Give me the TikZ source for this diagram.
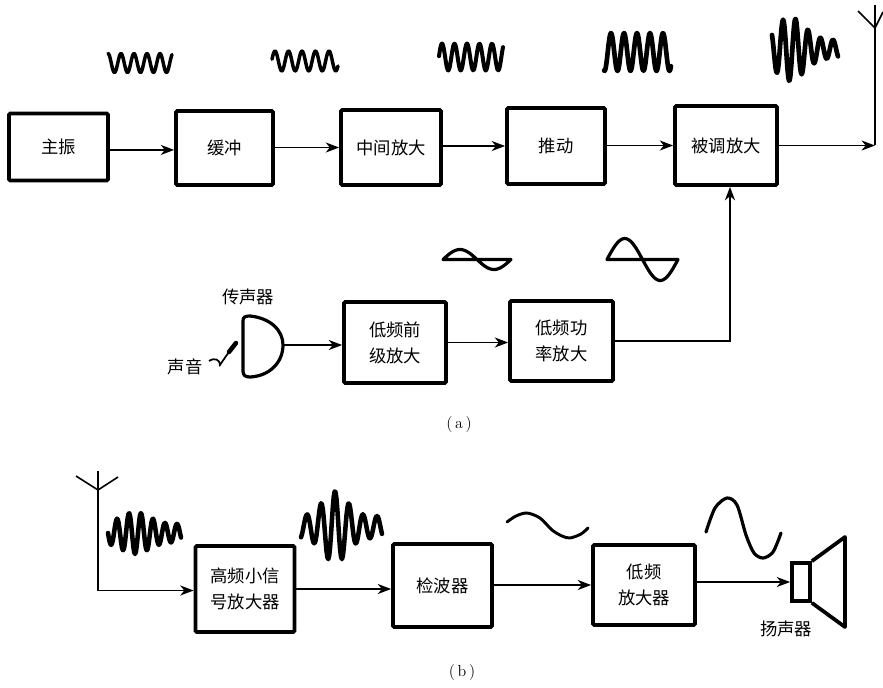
\documentclass[tikz,border=0pt]{standalone}
\usepackage{fontspec}
\newfontfamily\cjk{Noto Sans CJK SC}
\usetikzlibrary{arrows.meta}
\usetikzlibrary{calc}

\tikzset{
	blockbox/.style={draw, line width=2.8pt, rounded corners=1pt, align=center, inner sep=0pt, font=\cjk\fontsize{13}{19.5}\selectfont},
	sig/.style={line width=1.2pt, -{Stealth[length=10pt,width=7.5pt,inset=3pt]}},
	wire/.style={line width=1.2pt},
	lbl/.style={inner sep=0pt, font=\cjk\fontsize{13}{19.5}\selectfont},
	wave/.style={line cap=round, line join=round}
}

\begin{document}
\begin{tikzpicture}[x=0.75pt, y=-0.75pt]

	\def\u{0.75pt}
	\useasboundingbox (0,0) rectangle (883,687);

	% blocks
	\foreach \name/\cx/\cy/\w/\h/\txt in {
		s0/58.5/147/99/67/主振, s1/224.5/148/97/74/缓冲, s2/391/147.5/100/75/中间放大,
		s3/556/146/98/76/推动, s4/726/145.5/102/79/被调放大,
		p0/395/342.5/102/81/低频前\\级放大, p1/561.5/341/103/80/低频功\\率放大,
		r0/245/589/99/86/高频小信\\号放大器, r1/442.5/585.5/99/83/检波器, r2/644/585/102/80/低频\\放大器} {
		\node[blockbox, minimum width=\w*\u, minimum height=\h*\u] (\name) at (\cx,\cy) {\txt};
	}

	% labels
	\node[lbl] (micname) at (248,297) {传声器};
	\node[lbl] (sound) at (185,367) {声音};
	\node[lbl] (spkname) at (786,629) {扬声器};
	\node[inner sep=0pt, font=\fontsize{12}{14}\selectfont] (capa) at (459,424) {(\,a\,)};
	\node[inner sep=0pt, font=\fontsize{12}{14}\selectfont] (capb) at (462,672) {(\,b\,)};

	% upper chain and aerial
	\coordinate (ant0) at (875,145);
	\coordinate (ant1) at (875,28);
	\draw[sig] ([yshift=-2.2pt]s0.east) -- ([yshift=-2.2pt]s0.east -| s1.west);
	\draw[sig] (s2.west -| s1.east) -- (s2.west);
	\draw[sig] (s3.west -| s2.east) -- (s3.west);
	\draw[sig] (s4.west -| s3.east) -- (s4.west);
	\draw[sig] (s4.east) -- (s4.east -| ant0);
	\draw[wire] (ant0) -- (ant1);
	\draw[wire] (875,5) -- (ant1) (858,11) -- (ant1) -- (883,12);

	% microphone
	\coordinate (micout) at (283,345);
	\draw[line width=2.4pt] (250,316) .. controls (270,318) and (283,330) .. (micout) .. controls (283,362) and (270,376) .. (250,377) .. controls (245,377) and (243,375) .. (243,371) -- (243,321) .. controls (243,317) and (245,316) .. (250,316) -- cycle;
	\draw[line width=1.3pt] (209,361) .. controls (215,357) and (220,360) .. (220,365) .. controls (222,362) and (226,356) .. (229,352);
	\draw[line width=3.4pt, line cap=round] (229,352) -- (236,343);

	% modulation path
	\draw[sig] (micout) -- (micout -| p0.west);
	\draw[sig] (p0.east) -- (p0.east -| p1.west);
	\draw[sig] (p1.east) -| ([xshift=3pt]s4.south);

	% receiver
	\coordinate (ant2) at (98,490);
	\coordinate (ant3) at (98,590.5);
	\draw[wire] (98,471) -- (ant2) (76,476) -- (ant2) -- (118,477);
	\draw[wire] (ant2) -- (ant3);
	\draw[sig] (ant3) -- (ant3 -| r0.west);
	\draw[sig] (r0.east) -- (r0.east -| r1.west);
	\draw[sig] (r2.west -| r1.east) -- (r2.west);

	% speaker
	\node[draw, line width=2.8pt, inner sep=0pt, minimum width=18*\u, minimum height=38*\u] (spk) at (801,582) {};
	\draw[sig] (spk.west -| r2.east) -- (spk.west);
	\draw[line width=2.8pt, line join=round] (spk.north east) -- (845,537) -- (845,627) -- (spk.south east);

	% carrier waves: left, right, centre, base amp, extra amp, extra centre, extra spread, period, peak at, width
	\foreach \xa/\xb/\yc/\aa/\ab/\xc/\sp/\per/\xp/\wd in {
		108/172/63/9.5/0/140/20/13/108/2.6, 272/338/61/10/0/300/20/13.5/275/2.6,
		439/503/57/13.5/0/470/20/12.5/442/3, 604/671/52/19/0/640/20/13/611/3.5,
		772/838/49/9/23/790/20/12.5/783/3.5, 108/181/533/9/12/135/20/12/117/3.4,
		301/382/527/11/25/335/17/14/307/3.4} {
		\draw[wave, line width=\wd pt] plot[domain=\xa:\xb, samples=90, variable=\t]
			(\t, {\yc-(\aa+\ab*exp(-((\t-\xc)/\sp)^2))*cos((\t-\xp)/\per*360)});
	}

	% audio waves on their base line
	\draw[wave, line width=2.4pt] plot[domain=443:511, samples=40, variable=\t] (\t, {259.5-10*sin((\t-443)/68*360)}) -- cycle;
	\draw[wave, line width=2.4pt] plot[domain=607:678, samples=40, variable=\t] (\t, {259.5-21*sin((\t-607)/71*360)}) -- cycle;

	% demodulated waves
	\draw[wave, line width=2.2pt] plot[smooth] coordinates {(507,522) (516,516) (527,513) (540,518) (552,530) (562,536) (570,538) (581,534) (588,528)};
	\draw[wave, line width=2.4pt] plot[smooth] coordinates {(706,532) (715,508) (727,498) (737,505) (746,535) (754,553) (763,558) (773,552) (781,533)};

\end{tikzpicture}
\end{document}
